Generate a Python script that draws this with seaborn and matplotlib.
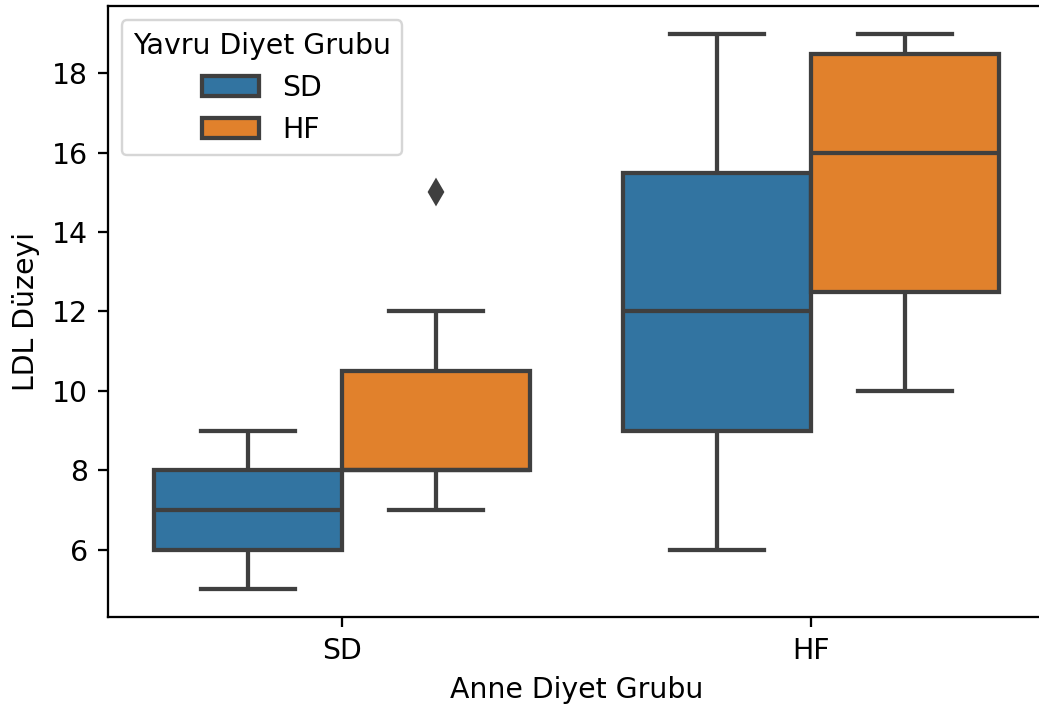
import matplotlib
matplotlib.use("Agg")
import matplotlib.pyplot as plt
import seaborn as sns
import pandas as pd

anne_groups = ["SD", "HF"]
yavru_groups = ["SD", "HF"]

ldl_sd_sd = [5, 6, 7, 8, 9]
ldl_sd_hf = [7, 8, 8, 8, 8, 10, 10.5, 12, 15]
ldl_hf_sd = [6, 9, 12, 15.5, 19]
ldl_hf_hf = [10, 12.5, 16, 18.5, 19]

rows = []
for anne, yavru, vals in [("SD", "SD", ldl_sd_sd), ("SD", "HF", ldl_sd_hf),
                          ("HF", "SD", ldl_hf_sd), ("HF", "HF", ldl_hf_hf)]:
    for v in vals:
        rows.append({"Anne Diyet Grubu": anne, "Yavru Diyet Grubu": yavru, "LDL Düzeyi": v})
df = pd.DataFrame(rows)

s = 1.18
plt.rcParams.update({
    "font.size": 10 * s,
    "axes.linewidth": 0.8 * s,
    "xtick.major.width": 0.8 * s,
    "ytick.major.width": 0.8 * s,
    "xtick.major.size": 3.5 * s,
    "ytick.major.size": 3.5 * s,
    "xtick.major.pad": 3.5 * s,
    "ytick.major.pad": 3.5 * s,
    "axes.labelpad": 4.0 * s,
})

fig = plt.figure(figsize=(1039 / 173, 709 / 173), dpi=173)
ax = fig.add_axes([107.5 / 1039, 1 - 617 / 709, 938 / 1039, 611 / 709])

gray = "#3f3f3f"
sns.boxplot(data=df, x="Anne Diyet Grubu", y="LDL Düzeyi", hue="Yavru Diyet Grubu",
            order=anne_groups, hue_order=yavru_groups, ax=ax,
            palette=["#1f77b4", "#ff7f0e"], saturation=0.75, gap=0, width=0.8,
            linecolor=gray, linewidth=1.5 * s,
            flierprops=dict(marker="d", markerfacecolor=gray, markeredgecolor=gray, markersize=7))

ax.set_yticks([6, 8, 10, 12, 14, 16, 18])
leg = ax.legend(title="Yavru Diyet Grubu", loc="upper left")
fig.savefig("out.png", dpi=173)
